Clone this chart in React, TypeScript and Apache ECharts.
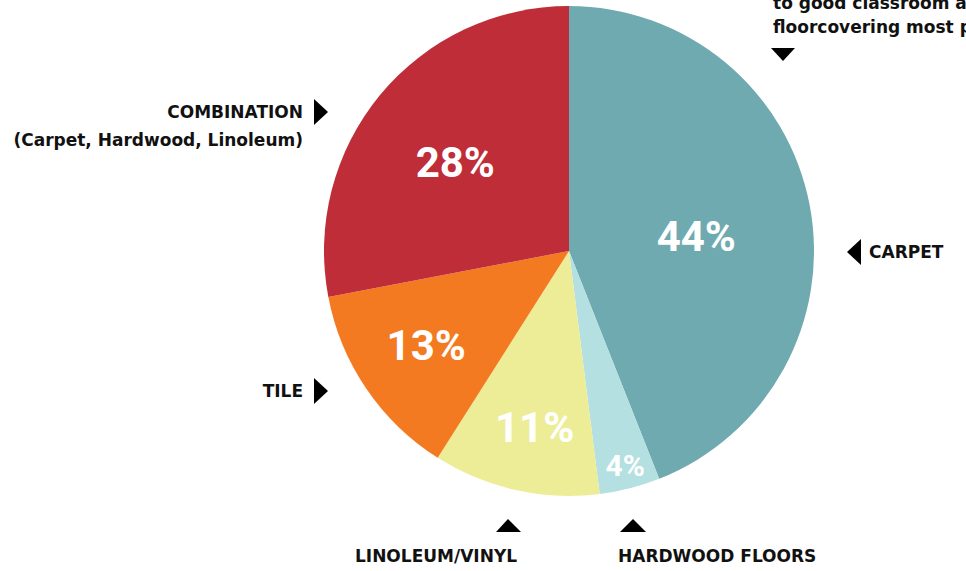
import React, { useEffect, useRef } from "react";
import * as echarts from "echarts";

const categories = ["CARPET", "HARDWOOD FLOORS", "LINOLEUM/VINYL", "TILE", "COMBINATION"];
const subLabels = ["", "", "", "", "(Carpet, Hardwood, Linoleum)"];
const percentValues = [44, 4, 11, 13, 28];
const noteLines = ["to good classroom acoustics, carpet is the", "floorcovering most preferred by teachers."];

const sliceColors = ["#6FAAB0", "#B4E0E1", "#EDED98", "#F37A21", "#BF2D38"];
const labelShift = [
  [4, 9],
  [25, 93],
  [-7, 54],
  [-39, 24],
  [-17, -9],
];
const labelSizes = [42, 30, 42, 42, 42];

const FONT = '"DejaVu Sans", "Liberation Sans", Arial, sans-serif';

export default function App() {
  const ref = useRef<HTMLDivElement>(null);
  useEffect(() => {
    if (!ref.current) return;
    const chart = echarts.init(ref.current, null, { renderer: "svg" });
    const txt = (text: string, x: number, y: number, align: string) => ({
      type: "text",
      x,
      y,
      style: {
        text,
        fill: "#111",
        font: `bold 17px ${FONT}`,
        textAlign: align,
        textVerticalAlign: "middle",
      },
    });
    const tri = (points: number[][]) => ({
      type: "polygon",
      shape: { points },
      style: { fill: "#000" },
    });
    chart.setOption({
      animation: false,
      backgroundColor: "#fff",
      series: [
        {
          type: "pie",
          center: [569, 251],
          radius: [0, 245],
          startAngle: 90,
          clockwise: true,
          silent: true,
          itemStyle: { borderWidth: 0 },
          label: {
            show: true,
            position: "inside",
            formatter: (p: any) => `${p.value}%`,
            color: "#fff",
            fontFamily: "Roboto, sans-serif",
            fontWeight: "bold",
          },
          labelLayout: (p: any) => ({
            dx: labelShift[p.dataIndex][0],
            dy: labelShift[p.dataIndex][1],
          }),
          labelLine: { show: false },
          data: categories.map((c, i) => ({
            name: c,
            value: percentValues[i],
            itemStyle: { color: sliceColors[i] },
            label: { fontSize: labelSizes[i] },
          })),
        },
      ],
      graphic: [
        txt(noteLines[0], 773, 3, "left"),
        txt(noteLines[1], 773, 27, "left"),
        tri([[771, 48], [795, 48], [783, 61]]),
        txt(categories[4], 303, 112, "right"),
        txt(subLabels[4], 303, 140, "right"),
        tri([[314, 99], [328, 112], [314, 125]]),
        txt(categories[3], 303, 391, "right"),
        tri([[314, 378], [328, 391], [314, 404]]),
        txt(categories[0], 869, 252, "left"),
        tri([[861, 239], [847, 252], [861, 265]]),
        txt(categories[2], 436, 556, "center"),
        tri([[496, 532], [508, 519], [521, 532]]),
        txt(categories[1], 618, 556, "left"),
        tri([[620, 532], [633, 519], [646, 532]]),
      ],
    });
    return () => chart.dispose();
  }, []);
  return (
    <div
      ref={ref}
      style={{ position: "absolute", left: 0, top: 0, width: 966, height: 571 }}
    />
  );
}
